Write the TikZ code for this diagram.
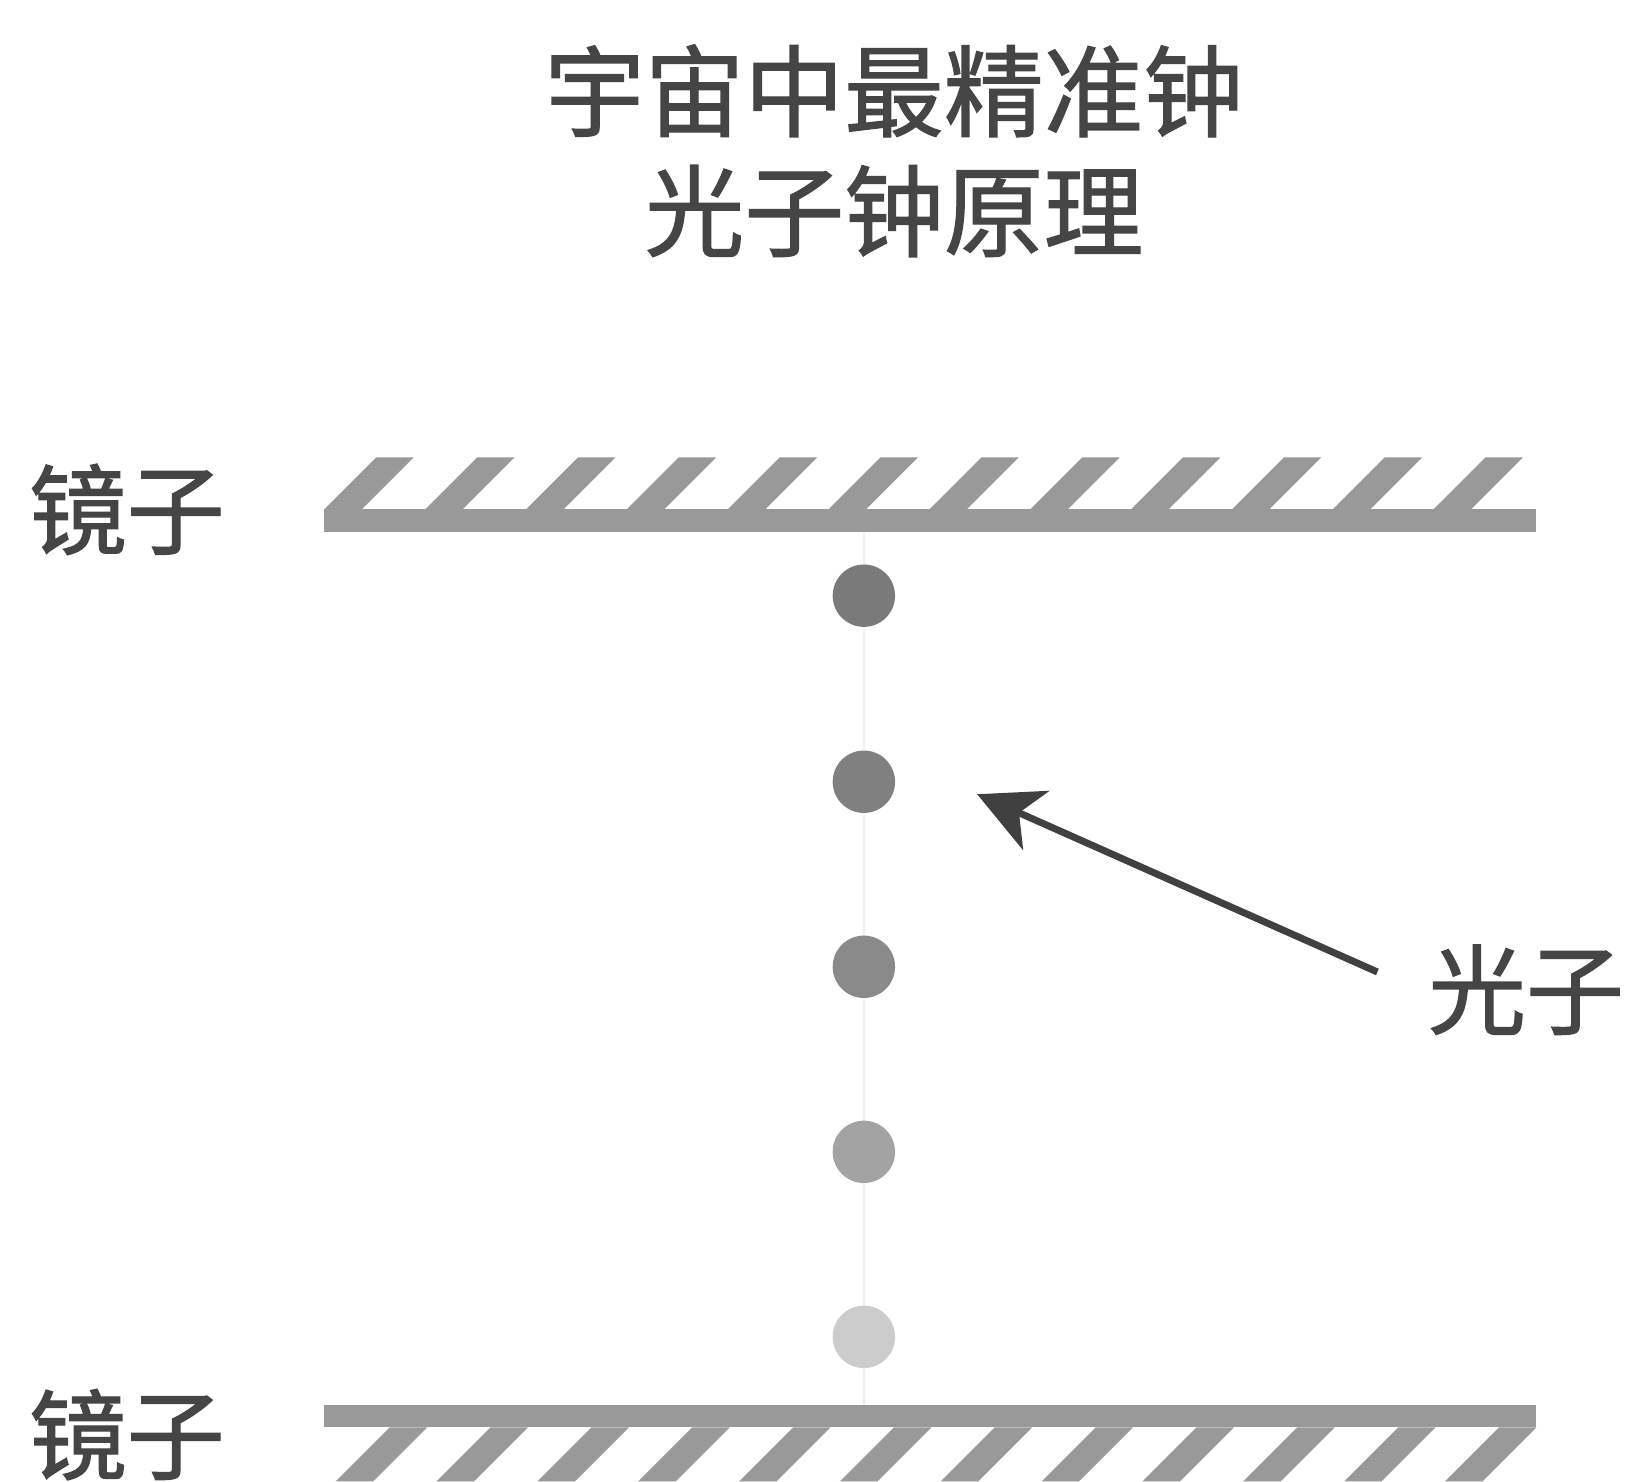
\documentclass[tikz,border=0pt]{standalone}
\usepackage{fontspec}
\usetikzlibrary{arrows.meta}
\newfontfamily\cjk[FakeBold=1.2]{Noto Sans CJK SC}
\begin{document}
\begin{tikzpicture}[
    lbl/.style={text=black!73, font=\cjk\fontsize{26.8}{31}\selectfont, inner sep=0pt},
    heading/.style={lbl, align=center, font=\cjk\fontsize{27.3}{32.8}\selectfont},
    mirror/.style={fill=black!40, draw=none},
    photon/.style={circle, minimum size=0.6cm, inner sep=0pt},
    ptr/.style={draw=black!75, line width=1.9pt, -{Stealth[length=6.2mm,width=6.2mm,inset=1.8mm]}}
]

    % frame
    \useasboundingbox (0,0) rectangle (15.68,-14.25);
    \fill [white] (0,0) rectangle (15.68,-14.25);

    % title
    \node [heading] (title) at (8.60,-1.45) {宇宙中最精准钟\\光子钟原理};

    % path of the light
    \draw [black!6, line width=0.6pt] (8.31,-5.12) -- (8.31,-13.52);

    % mirrors
    %% top
    \fill [mirror] (3.12,-4.90) rectangle (14.78,-5.12);
    \foreach \i in {0,...,11}
        \fill [mirror] (3.12+0.97*\i,-4.90) -- (3.48+0.97*\i,-4.90)
            -- (3.98+0.97*\i,-4.40) -- (3.62+0.97*\i,-4.40) -- cycle;
    %% bottom
    \fill [mirror] (3.12,-13.52) rectangle (14.78,-13.73);
    \foreach \i in {0,...,11}
        \fill [mirror] (14.78-0.97*\i,-13.73) -- (14.42-0.97*\i,-13.73)
            -- (13.90-0.97*\i,-14.25) -- (14.26-0.97*\i,-14.25) -- cycle;

    % labels
    \node [lbl] (mirrortop) at (1.22,-4.90) {镜子};
    \node [lbl] (mirrorbot) at (1.22,-13.80) {镜子};
    \node [lbl] (photonlbl) at (14.68,-9.52) {光子};

    % photons
    \node [photon, fill=black!52] (ph1) at (8.31,-5.73) {};
    \node [photon, fill=black!50] (ph2) at (8.31,-7.52) {};
    \node [photon, fill=black!46] (ph3) at (8.31,-9.30) {};
    \node [photon, fill=black!36] (ph4) at (8.31,-11.08) {};
    \node [photon, fill=black!20] (ph5) at (8.31,-12.86) {};

    % pointer
    \coordinate (ptrtail) at (13.25,-9.35);
    \coordinate (ptrhead) at (9.40,-7.64);
    \draw [ptr] (ptrtail) -- (ptrhead);

\end{tikzpicture}
\end{document}
